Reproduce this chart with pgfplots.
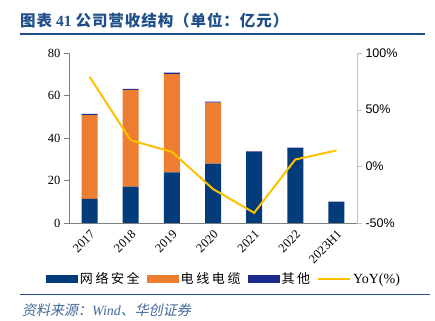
\documentclass[border=0pt]{standalone}
\usepackage{pgfplots}
\pgfplotsset{compat=1.18}
\usepackage{fontspec}
\setmainfont{Liberation Serif}
\newfontfamily\cjk{Noto Sans CJK SC}
\newfontfamily\cjkt[LetterSpace=6]{Noto Sans CJK SC}
\newfontfamily\cjkl[LetterSpace=20]{Noto Sans CJK SC}
\newfontfamily\cjkit[FakeSlant=0.2]{Noto Sans CJK SC}
\newfontfamily\sansf{Liberation Sans}
\definecolor{netblue}{HTML}{043B7A}
\definecolor{cableorange}{HTML}{ED7D31}
\definecolor{otherblue}{HTML}{1A2A8C}
\definecolor{yoy}{HTML}{FFC000}
\definecolor{titleblue}{HTML}{1F4E89}
\definecolor{axisgray}{HTML}{7F7F7F}
\begin{document}
\begin{tikzpicture}
\useasboundingbox (0bp,0bp) rectangle (435bp,321bp);
% title
\node[anchor=west, text=titleblue, font={\fontsize{15.5bp}{17bp}\selectfont\bfseries}, inner sep=0] at (20bp,300bp)
  {\cjkt 图表\hspace{4bp}\rmfamily 41\hspace{4bp}\cjkt 公司营收结构（单位：亿元）};
\draw[titleblue, line width=1.5bp] (20bp,287bp) -- (425bp,287bp);
\begin{axis}[
  at={(69bp,98bp)}, anchor=south west,
  width=288bp, height=170bp, scale only axis,
  ybar stacked, bar width=16bp,
  xmin=-0.5, xmax=6.5, ymin=0, ymax=80,
  xtick={0,...,6},
  xticklabels={2017,2018,2019,2020,2021,2022,2023H1},
  xticklabel style={rotate=45, anchor=north east, font={\fontsize{12.5bp}{13bp}\selectfont}, inner sep=1bp},
  xtick style={draw=none},
  ytick={0,20,40,60,80},
  yticklabels={0,20,40,60,80},
  yticklabel style={font={\fontsize{12.5bp}{14bp}\selectfont}},
  axis x line*=bottom, axis y line*=left,
  axis line style={axisgray, line width=0.8bp, -},
  ytick style={axisgray},
  tick align=outside, major tick length=5bp,
  legend columns=4,
  legend style={at={(0.538,-0.33)}, anchor=center, draw=none, fill=none,
    font={\fontsize{13bp}{14bp}\selectfont\cjkl},
    /tikz/every even column/.append style={column sep=5bp}},
  legend image code/.code={\fill[#1] (0bp,-4bp) rectangle (32bp,4bp);},
]
\addplot[fill=netblue, draw=none] coordinates {(0,11.3) (1,17.1) (2,23.8) (3,27.9) (4,33.4) (5,35.2) (6,9.8)};
\addlegendentry{网络安全}
\addplot[fill=cableorange, draw=none] coordinates {(0,39.5) (1,45.5) (2,46.3) (3,28.7) (4,0) (5,0) (6,0)};
\addlegendentry{电线电缆}
\addplot[fill=otherblue, draw=none] coordinates {(0,0.6) (1,0.5) (2,0.7) (3,0.5) (4,0.3) (5,0.3) (6,0.3)};
\addlegendentry{其他}
\addlegendimage{legend image code/.code={\draw[yoy, line width=2bp] (0bp,0bp) -- (32bp,0bp);}}
\addlegendentry{\rmfamily\fontsize{14bp}{15bp}\selectfont YoY(\%)}
\end{axis}
\begin{axis}[
  at={(69bp,98bp)}, anchor=south west,
  width=288bp, height=170bp, scale only axis,
  xmin=-0.5, xmax=6.5, ymin=-50, ymax=100,
  axis x line=none, axis y line*=right,
  axis line style={black!25, line width=0.8bp, -},
  ytick={-50,0,50,100},
  yticklabels={-50\%,0\%,50\%,100\%},
  yticklabel style={font={\fontsize{12.5bp}{14bp}\selectfont\sansf}},
  ytick style={black!25},
  tick align=outside, major tick length=5bp,
]
\addplot[yoy, line width=2bp, mark=none] coordinates {(0,79) (1,23) (2,12.8) (3,-20) (4,-41) (5,6) (6,14)};
\end{axis}
% footer
\draw[titleblue, line width=1bp] (20bp,26bp) -- (430bp,26bp);
\node[anchor=west, text=titleblue!85, font={\fontsize{14bp}{15bp}\selectfont}, inner sep=0] at (22bp,11bp)
  {\cjkit 资料来源：\itshape\rmfamily Wind\cjkit 、华创证券};
\end{tikzpicture}
\end{document}
